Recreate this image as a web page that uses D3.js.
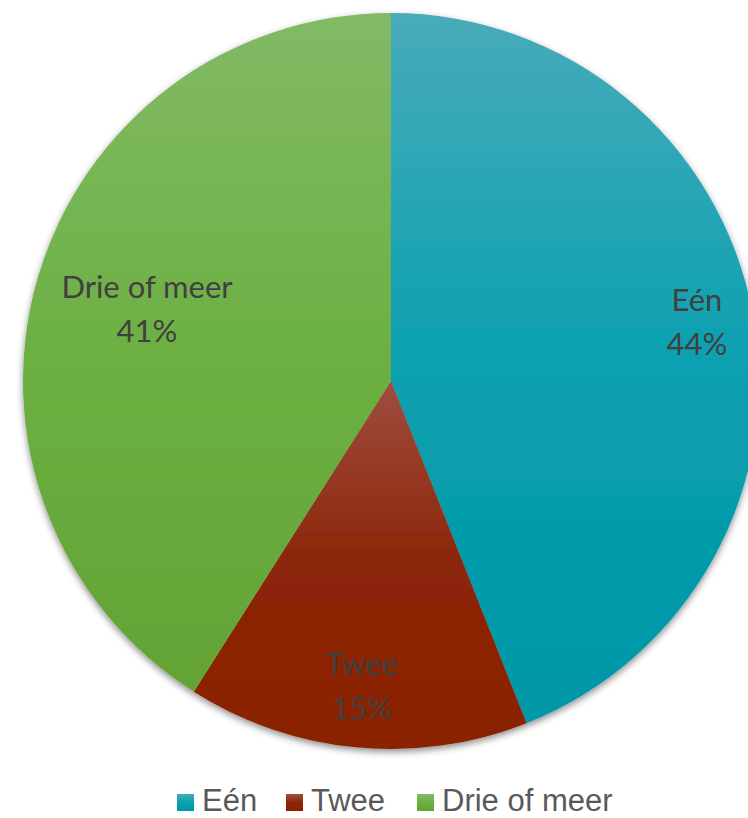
<!DOCTYPE html>
<html>
<head>
<meta charset="utf-8">
<script src="https://cdn.jsdelivr.net/npm/d3@7"></script>
<style>
  body { margin: 0; background: #fff; }
  svg { display: block; }
</style>
</head>
<body>
<div id="chart"></div>
<script>
// data
var categories = ["Eén", "Twee", "Drie of meer"];
var values = [44, 15, 41];
var labels = ["44%", "15%", "41%"];
var topColors = ["#48abb9", "#9e4d40", "#82ba66"];
var baseColors = ["#0aa0b0", "#8c2508", "#6cb043"];
var bottomColors = ["#0097a7", "#8a2000", "#63a335"];

var width = 748, height = 818;
var cx = 391, cy = 381, radius = 368;

var svg = d3.select("#chart")
    .append("svg")
    .attr("width", width)
    .attr("height", height);

var defs = svg.append("defs");

var shadow = defs.append("filter")
    .attr("id", "shadow")
    .attr("x", "-10%").attr("y", "-10%")
    .attr("width", "120%").attr("height", "120%");
shadow.append("feDropShadow")
    .attr("dx", 0).attr("dy", 3)
    .attr("stdDeviation", 3.5)
    .attr("flood-color", "#000")
    .attr("flood-opacity", 0.45);

categories.forEach(function(c, i) {
    var g = defs.append("linearGradient")
        .attr("id", "grad" + i)
        .attr("x1", 0).attr("y1", 0)
        .attr("x2", 0).attr("y2", 1);
    g.append("stop").attr("offset", "0%").attr("stop-color", topColors[i]);
    g.append("stop").attr("offset", "50%").attr("stop-color", baseColors[i]);
    g.append("stop").attr("offset", "100%").attr("stop-color", bottomColors[i]);
});

var pie = d3.pie().sort(null).value(function(d) { return d; });
var arcs = pie(values);

var arc = d3.arc().innerRadius(0).outerRadius(radius);

var pieG = svg.append("g")
    .attr("transform", "translate(" + cx + "," + cy + ")");

pieG.append("g")
    .attr("filter", "url(#shadow)")
    .selectAll("path")
    .data(arcs)
    .enter().append("path")
    .attr("d", arc)
    .attr("fill", function(d, i) { return "url(#grad" + i + ")"; });

// data labels (baseline of first line, relative to centre)
var labelPos = [
    [306, -70],
    [-29, 294],
    [-244, -83]
];
var lab = pieG.selectAll(".lbl")
    .data(arcs)
    .enter().append("text")
    .attr("class", "lbl")
    .attr("text-anchor", "middle")
    .attr("font-family", "Lato, 'Open Sans', sans-serif")
    .attr("font-size", 31)
    .attr("fill", "#404040")
    .attr("transform", function(d, i) {
        return "translate(" + labelPos[i][0] + "," + labelPos[i][1] + ")";
    });
lab.append("tspan")
    .attr("x", 0).attr("dy", 0)
    .text(function(d, i) { return categories[i]; });
lab.append("tspan")
    .attr("x", 0).attr("dy", 44)
    .text(function(d, i) { return labels[i]; });

// legend
var legendX = [177, 286, 417];
var legend = svg.append("g").attr("transform", "translate(0,794)");
var item = legend.selectAll(".item")
    .data(categories)
    .enter().append("g")
    .attr("class", "item")
    .attr("transform", function(d, i) { return "translate(" + legendX[i] + ",0)"; });
item.append("rect")
    .attr("width", 17).attr("height", 17)
    .attr("fill", function(d, i) { return "url(#grad" + i + ")"; });
item.append("text")
    .attr("x", 25).attr("y", 17)
    .attr("font-family", "'Liberation Sans', Arial, sans-serif")
    .attr("font-size", 31)
    .attr("fill", "#595959")
    .text(function(d) { return d; });
</script>
</body>
</html>
